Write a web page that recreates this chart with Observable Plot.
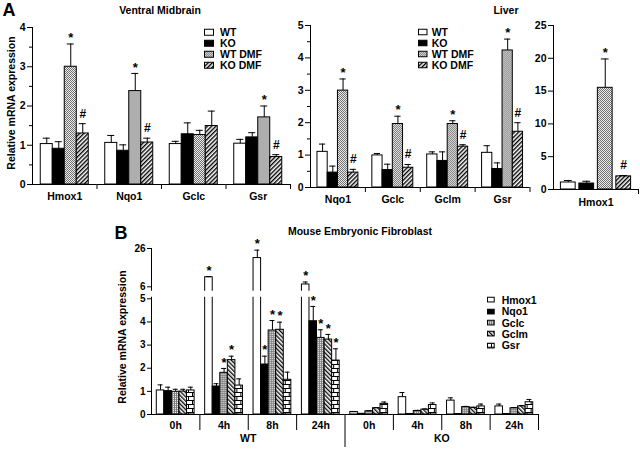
<!DOCTYPE html>
<html><head><meta charset="utf-8">
<script src="https://cdn.jsdelivr.net/npm/d3@7"></script>
<script src="https://cdn.jsdelivr.net/npm/@observablehq/plot@0.6"></script>
<style>
body{margin:0;background:#fff;}
#chart{position:relative;width:640px;height:452px;overflow:hidden;font-family:"Liberation Sans",Arial,Helvetica,sans-serif;font-weight:bold;color:#000;background:#fff;}
.lbl{position:absolute;line-height:1;white-space:nowrap;transform:translate(-50%,-50%);}
.rot{transform:translate(-50%,-50%) rotate(-90deg);}
.leg{position:absolute;line-height:1;white-space:nowrap;display:flex;align-items:center;transform:translateY(-50%);font-size:10.5px;}
</style></head><body>
<svg width="0" height="0" style="position:absolute">
<defs>
<pattern id="dots" width="2" height="2" patternUnits="userSpaceOnUse">
<rect width="2" height="2" fill="#ececec"/><rect width="1" height="1" fill="#707070"/><rect x="1" y="1" width="1" height="1" fill="#707070"/>
</pattern>
<pattern id="hatchR" width="3" height="3" patternUnits="userSpaceOnUse" patternTransform="rotate(45)">
<rect width="3" height="3" fill="#fff"/><line x1="0.7" y1="0" x2="0.7" y2="3" stroke="#000" stroke-width="1.4"/>
</pattern>
<pattern id="hatchL" width="3" height="3" patternUnits="userSpaceOnUse" patternTransform="rotate(-45)">
<rect width="3" height="3" fill="#fff"/><line x1="0.7" y1="0" x2="0.7" y2="3" stroke="#000" stroke-width="1.3"/>
</pattern>
<pattern id="vstip" width="2" height="2" patternUnits="userSpaceOnUse">
<rect width="2" height="2" fill="#ececec"/><rect width="1" height="2" fill="#7a7a7a"/><rect x="1" y="1" width="1" height="1" fill="#9a9a9a"/>
</pattern>
<pattern id="brick" width="8" height="8" patternUnits="userSpaceOnUse">
<rect width="8" height="8" fill="#fff"/>
<line x1="0" y1="0.5" x2="8" y2="0.5" stroke="#000" stroke-width="1"/>
<line x1="0" y1="4.5" x2="8" y2="4.5" stroke="#000" stroke-width="1"/>
<line x1="4.5" y1="0" x2="4.5" y2="4" stroke="#000" stroke-width="1"/>
<line x1="0.5" y1="4" x2="0.5" y2="8" stroke="#000" stroke-width="1"/>
</pattern>
</defs>
</svg>
<div id="chart"></div>
<script>
// ---------- DATA ----------
const treatments = ["WT", "KO", "WT DMF", "KO DMF"];
const treatmentFills = ["#ffffff", "#000000", "url(#dots)", "url(#hatchR)"];

// Panel A - Ventral Midbrain
const vmGenes = ["Hmox1", "Nqo1", "Gclc", "Gsr"];
const vmWT = [1.03, 1.06, 1.03, 1.04];
const vmWTSem = [0.15, 0.19, 0.07, 0.11];
const vmKO = [0.91, 0.86, 1.28, 1.20];
const vmKOSem = [0.18, 0.15, 0.29, 0.12];
const vmWTDMF = [3.00, 2.38, 1.26, 1.71];
const vmWTDMFSem = [0.58, 0.45, 0.12, 0.29];
const vmKODMF = [1.30, 1.07, 1.49, 0.70];
const vmKODMFSem = [0.25, 0.11, 0.38, 0.06];
const vmWTDMFSig = ["*", "*", "", "*"];
const vmKODMFSig = ["#", "#", "", "#"];
const vmTicks = [0, 1, 2, 3, 4];
const vmMinor = [0.5, 1.5, 2.5, 3.5];

// Panel A - Liver
const lvGenes = ["Nqo1", "Gclc", "Gclm", "Gsr"];
const lvWT = [1.10, 0.99, 1.02, 1.07];
const lvWTSem = [0.24, 0.06, 0.08, 0.22];
const lvKO = [0.46, 0.54, 0.82, 0.57];
const lvKOSem = [0.20, 0.18, 0.28, 0.19];
const lvWTDMF = [2.99, 1.96, 1.96, 4.23];
const lvWTDMFSem = [0.36, 0.24, 0.10, 0.35];
const lvKODMF = [0.46, 0.61, 1.26, 1.72];
const lvKODMFSem = [0.10, 0.10, 0.06, 0.28];
const lvWTDMFSig = ["*", "*", "*", "*"];
const lvKODMFSig = ["#", "#", "#", "#"];
const lvTicks = [0, 1, 2, 3, 4, 5];
const lvMinor = [0.5, 1.5, 2.5, 3.5, 4.5];

// Panel A - Liver Hmox1
const lhGenes = ["Hmox1"];
const lhWT = [1.07], lhWTSem = [0.30];
const lhKO = [0.91], lhKOSem = [0.35];
const lhWTDMF = [15.5], lhWTDMFSem = [4.4];
const lhKODMF = [2.0], lhKODMFSem = [0.12];
const lhTicks = [0, 5, 10, 15, 20, 25];

// Panel B - Mouse Embryonic Fibroblast
const bGroups = ["WT 0h", "WT 4h", "WT 8h", "WT 24h", "KO 0h", "KO 4h", "KO 8h", "KO 24h"];
const bGenes = ["Hmox1", "Nqo1", "Gclc", "Gclm", "Gsr"];
const bGeneFills = ["#ffffff", "#000000", "url(#vstip)", "url(#hatchL)", "url(#brick)"];
const bHmox1 = [1.04, 11.0, 21.0, 7.2, 0.11, 0.75, 0.60, 0.35];
const bHmox1Sem = [0.24, 0.3, 4.15, 1.3, 0.01, 0.20, 0.12, 0.10];
const bNqo1 = [1.01, 1.21, 2.16, 4.03, 0.03, 0.02, 0.02, 0.02];
const bNqo1Sem = [0.17, 0.12, 0.36, 0.64, 0, 0, 0, 0];
const bGclc = [0.98, 1.80, 3.63, 3.31, 0.14, 0.15, 0.32, 0.27];
const bGclcSem = [0.11, 0.19, 0.43, 0.35, 0.02, 0.03, 0.03, 0.03];
const bGclm = [0.99, 2.35, 3.66, 3.24, 0.27, 0.21, 0.29, 0.35];
const bGclmSem = [0.10, 0.17, 0.33, 0.22, 0.03, 0.03, 0.02, 0.04];
const bGsr = [1.04, 1.25, 1.50, 2.33, 0.46, 0.41, 0.35, 0.53];
const bGsrSem = [0.14, 0.29, 0.33, 0.51, 0.08, 0.09, 0.10, 0.12];
const bHmox1Sig = ["", "*", "*", "*", "", "", "", ""];
const bNqo1Sig = ["", "", "*", "*", "", "", "", ""];
const bGclcSig = ["", "*", "*", "*", "", "", "", ""];
const bGclmSig = ["", "*", "*", "*", "", "", "", ""];
const bGsrSig = ["", "", "", "*", "", "", "", ""];
const bTicks = [0, 1, 2, 3, 4, 5, 6, 26];
const bBreakDomain = [0, 5, 6, 26];

// ---------- HELPERS ----------
const chart = document.getElementById("chart");
const none = n => Array(n).fill("");

function buildRows(cats, names, means, sems, sigs) {
  const rows = [];
  names.forEach((s, j) => cats.forEach((c, i) => {
    rows.push({cat: c, series: s, value: means[j][i], err: means[j][i] + sems[j][i], sig: sigs[j][i]});
  }));
  return rows;
}

function addText(txt, cx, cy, size, rotate) {
  const d = document.createElement("div");
  d.className = "lbl" + (rotate ? " rot" : "");
  d.style.left = cx + "px"; d.style.top = cy + "px"; d.style.fontSize = size + "px";
  d.textContent = txt;
  chart.appendChild(d);
}

function addLegend(names, fills, sx, tx, ys, sw, sh) {
  names.forEach((n, i) => {
    const row = document.createElement("div");
    row.className = "leg";
    row.style.left = sx + "px"; row.style.top = ys[i] + "px";
    row.innerHTML = `<svg width="${sw + 1}" height="${sh + 1}" style="display:block;overflow:visible"><rect x="0.5" y="0.5" width="${sw}" height="${sh}" fill="${fills[i]}" stroke="#000" stroke-width="1"/></svg><span style="margin-left:${tx - sx - sw - 1}px">${n}</span>`;
    chart.appendChild(row);
  });
}

function panel(o) {
  const step = (o.width - o.ml - o.mr) / o.cats.length;
  const errRows = o.rows.filter(d => d.err > d.value);
  const marks = [
    Plot.frame({anchor: "left", facetAnchor: "left"}),
    Plot.ruleY([0], {stroke: "#000"}),
    Plot.barY(o.rows, {fx: "cat", x: "series", y: "value", fill: "series", stroke: "#000", strokeWidth: 1}),
    ...(o.extra || []),
    Plot.ruleX(errRows, {fx: "cat", x: "series", y1: "value", y2: "err", stroke: "#000", strokeWidth: 1}),
    Plot.tickY(errRows, {fx: "cat", x: "series", y: "err", stroke: "#000", strokeWidth: 1, insetLeft: o.capInset, insetRight: o.capInset}),
    Plot.text(o.rows.filter(d => d.sig === "*"), {fx: "cat", x: "series", y: "err", text: "sig", dy: -6, fontSize: 13}),
    Plot.text(o.rows.filter(d => d.sig === "#"), {fx: "cat", x: "series", y: "err", text: "sig", dy: -10, fontSize: 12}),
    Plot.axisY({ticks: o.yTicks, tickSize: o.yTickSize, tickPadding: o.yTickPad, tickFormat: d => String(d), label: null, stroke: "#000", fontSize: o.yFont}),
    o.yMinor ? Plot.axisY({ticks: o.yMinor, tickSize: 3, tickFormat: () => "", label: null, stroke: "#000"}) : null,
    Plot.axisFx({anchor: "bottom", tickSize: 0, tickPadding: o.labelPad, label: null, tickFormat: o.fxFormat || (d => d)}),
    o.cats.length > 1 ? Plot.axisFx({anchor: "bottom", ticks: o.sepTicks || o.cats.slice(1), tickSize: o.sepSize, tickFormat: () => "", dx: -step / 2, label: null, stroke: "#000"}) : null,
    Plot.axisFx({anchor: "bottom", ticks: [o.cats[o.cats.length - 1]], tickSize: o.sepSize, tickFormat: () => "", dx: step / 2, label: null, stroke: "#000"}),
    ...(o.post || [])
  ].filter(Boolean);
  const svg = Plot.plot({
    width: o.width, height: o.height,
    marginTop: o.mt, marginBottom: o.mb, marginLeft: o.ml, marginRight: o.mr,
    style: {background: "transparent", overflow: "visible", fontFamily: "Liberation Sans, Arial, sans-serif", fontSize: "10.5px", fontWeight: "bold", color: "#000"},
    fx: {domain: o.cats, padding: 0, round: false},
    x: {domain: o.series, paddingInner: o.xPadInner, paddingOuter: o.xPadOuter, round: false, axis: null},
    y: o.y,
    color: {domain: o.series, range: o.fills},
    marks
  });
  svg.style.position = "absolute";
  svg.style.left = o.left + "px";
  svg.style.top = o.top + "px";
  chart.appendChild(svg);
  return step;
}

// ---------- PANEL A: Ventral Midbrain ----------
panel({
  rows: buildRows(vmGenes, treatments, [vmWT, vmKO, vmWTDMF, vmKODMF], [vmWTSem, vmKOSem, vmWTDMFSem, vmKODMFSem], [none(4), none(4), vmWTDMFSig, vmKODMFSig]),
  cats: vmGenes, series: treatments, fills: treatmentFills,
  left: 0, top: 0, width: 300, height: 210, mt: 27, mb: 26, ml: 32, mr: 10,
  y: {domain: [0, 4]}, yTicks: vmTicks, yMinor: vmMinor, yTickSize: 5, yTickPad: 2, yFont: 10.5,
  xPadInner: 0, xPadOuter: 0.6875, capInset: 2.5, labelPad: 8, sepSize: 5
});

// ---------- PANEL A: Liver ----------
panel({
  rows: buildRows(lvGenes, treatments, [lvWT, lvKO, lvWTDMF, lvKODMF], [lvWTSem, lvKOSem, lvWTDMFSem, lvKODMFSem], [none(4), none(4), lvWTDMFSig, lvKODMFSig]),
  cats: lvGenes, series: treatments, fills: treatmentFills,
  left: 290, top: 0, width: 250, height: 210, mt: 25, mb: 23, ml: 20, mr: 10.5,
  y: {domain: [0, 5]}, yTicks: lvTicks, yMinor: lvMinor, yTickSize: 5, yTickPad: 2, yFont: 10.5,
  xPadInner: 0, xPadOuter: 0.68, capInset: 2, labelPad: 8, sepSize: 5
});

// ---------- PANEL A: Liver Hmox1 ----------
panel({
  rows: buildRows(lhGenes, treatments, [lhWT, lhKO, lhWTDMF, lhKODMF], [lhWTSem, lhKOSem, lhWTDMFSem, lhKODMFSem], [[""], [""], ["*"], ["#"]]),
  cats: lhGenes, series: treatments, fills: treatmentFills,
  left: 520, top: 0, width: 120, height: 210, mt: 25, mb: 21, ml: 33, mr: 2,
  y: {domain: [0, 25]}, yTicks: lhTicks, yMinor: null, yTickSize: 5, yTickPad: 2, yFont: 10.5,
  xPadInner: 0.2, xPadOuter: 0.4, capInset: 3.5, labelPad: 9.5, sepSize: 5
});

// ---------- PANEL B ----------
const bRows = buildRows(bGroups, bGenes, [bHmox1, bNqo1, bGclc, bGclm, bGsr],
  [bHmox1Sem, bNqo1Sem, bGclcSem, bGclmSem, bGsrSem],
  [bHmox1Sig, bNqo1Sig, bGclcSig, bGclmSig, bGsrSig]);
const bStep = (540 - 51 - 102) / bGroups.length;
panel({
  rows: bRows, cats: bGroups, series: bGenes, fills: bGeneFills,
  left: 100, top: 240, width: 540, height: 212, mt: 8, mb: 38, ml: 51, mr: 102,
  y: {type: "linear", domain: bBreakDomain, range: [174, 58.3, 46.3, 8]},
  yTicks: bTicks, yMinor: null, yTickSize: 4, yTickPad: 2, yFont: 10,
  xPadInner: 0, xPadOuter: 0.7, capInset: 1.3, labelPad: 7.5, sepSize: 16,
  fxFormat: d => d.split(" ")[1],
  sepTicks: bGroups.slice(1).filter(g => g !== "KO 0h"),
  extra: [Plot.ruleY([5.42], {stroke: "#fff", strokeWidth: 6, insetLeft: -3})],
  post: [
    Plot.axisFx({anchor: "bottom", ticks: ["KO 0h"], tickSize: 33, tickFormat: () => "", dx: -bStep / 2, label: null, stroke: "#000"}),
    Plot.axisFx({anchor: "bottom", ticks: ["WT 8h", "KO 8h"], tickSize: 0, tickPadding: 20, tickFormat: d => d.split(" ")[0], dx: -bStep / 2, label: null})
  ]
});

// ---------- TEXTS & LEGENDS ----------
addText("A", 9, 10, 18);
addText("Ventral Midbrain", 160, 10, 10.5);
addText("Liver", 506, 10, 10.5);
addText("Relative mRNA expression", 10.8, 102.5, 10.5, true);
addText("B", 121, 233, 18);
addText("Mouse Embryonic Fibroblast", 360, 230.5, 10.5);
addText("Relative mRNA expression", 121.7, 336.7, 10.5, true);

addLegend(treatments, treatmentFills, 204, 220, [32.3, 43.3, 54, 65], 9, 6);
addLegend(treatments, treatmentFills, 418.3, 431.7, [32.3, 43.3, 54, 65], 8.5, 5.5);
addLegend(bGenes, bGeneFills, 486.7, 501.7, [300, 311.3, 322.7, 334, 345.3], 6.7, 4.7);
</script>
</body></html>
